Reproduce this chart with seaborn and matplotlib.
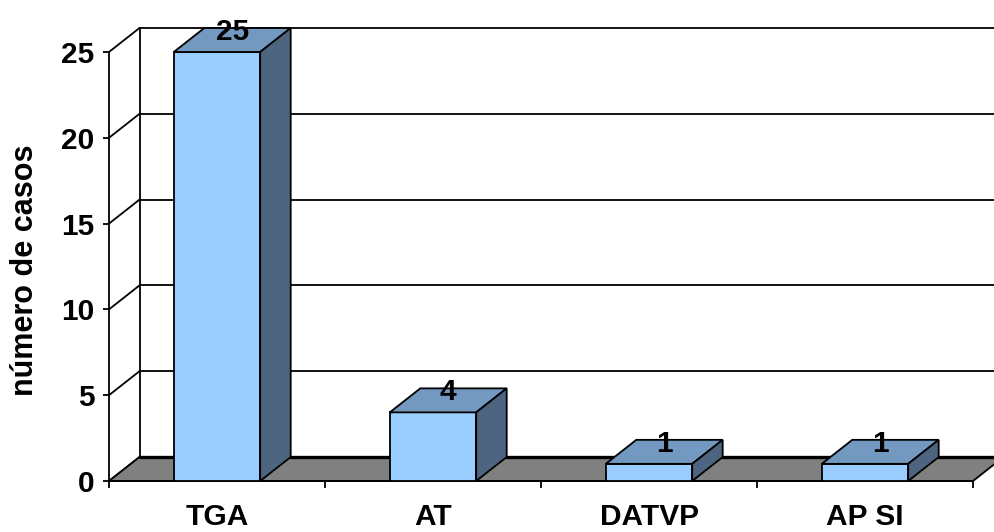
import matplotlib
matplotlib.use("Agg")
import matplotlib.pyplot as plt
from matplotlib.patches import Polygon
from matplotlib import font_manager
import seaborn as sns
import pandas as pd

# Cases per diagnosis
categories = ["TGA", "AT", "DATVP", "AP SI"]
casos = [25, 4, 1, 1]
y_ticks = [0, 5, 10, 15, 20, 25]
y_label = "número de casos"

FRONT = "#99CCFF"
TOP = "#7399C0"
SIDE = "#4D6580"
FLOOR = "#808080"

sns.set_theme(style="white")

names = {f.name for f in font_manager.fontManager.ttflist}
narrow = "Liberation Sans Narrow" if "Liberation Sans Narrow" in names else "Liberation Sans"
tick_size = 23 if narrow == "Liberation Sans Narrow" else 21.5
plt.rcParams["font.family"] = ["Liberation Sans", "DejaVu Sans"]
plt.rcParams["text.color"] = "black"
plt.rcParams["axes.labelcolor"] = "black"
plt.rcParams["xtick.color"] = "black"
plt.rcParams["ytick.color"] = "black"

W, H = 994, 532
fig = plt.figure(figsize=(W / 100, H / 100), dpi=100)
fig.patch.set_facecolor("white")

# plot area in pixels: front baseline at y=481, left axis at x=109
left_px, base_px = 109, 481
cat_px = 216.0     # pixels per category
unit_px = 17.16    # pixels per case
ax = fig.add_axes([left_px / W, (H - base_px) / H, (W - left_px) / W, base_px / H])
ax.set_facecolor("none")

# depth of the 3-D box in data units
dx = 30.5 / cat_px
dy = 24.0 / unit_px

df = pd.DataFrame({"diag": categories, "casos": casos})
sns.barplot(data=df, x="diag", y="casos", color=FRONT, width=0.4,
            edgecolor="black", linewidth=1.3, saturation=1, ax=ax, zorder=5)

xmax = -0.5 + (W - left_px) / cat_px
ax.set_xlim(-0.5, xmax)
ax.set_ylim(0, base_px / unit_px)

x0 = -0.5
x_end = -0.5 + len(categories)
lw = 1.3

# back wall gridlines and side wall diagonals
for v in y_ticks:
    ax.plot([x0 + dx, xmax + 1], [v + dy, v + dy], color="black", lw=lw, zorder=1,
            clip_on=False)
    ax.plot([x0, x0 + dx], [v, v + dy], color="black", lw=lw, zorder=1)
ax.plot([x0 + dx, x0 + dx], [dy, y_ticks[-1] + dy], color="black", lw=lw, zorder=1)

# floor
floor = Polygon([(x0, 0), (x_end, 0), (x_end + dx, dy), (x0 + dx, dy)],
                closed=True, facecolor=FLOOR, edgecolor="black", lw=lw, zorder=2,
                clip_on=False)
ax.add_patch(floor)
ax.plot([x0 + dx, x_end + dx], [dy, dy], color="black", lw=2.4, zorder=2.1,
        clip_on=False)

# top and side faces of each bar, built from the seaborn bars
for bar, val in zip(ax.patches[:len(categories)], casos):
    bx0 = bar.get_x()
    bx1 = bx0 + bar.get_width()
    h = bar.get_height()
    top = Polygon([(bx0, h), (bx1, h), (bx1 + dx, h + dy), (bx0 + dx, h + dy)],
                  closed=True, facecolor=TOP, edgecolor="black", lw=lw, zorder=6)
    side = Polygon([(bx1, 0), (bx1, h), (bx1 + dx, h + dy), (bx1 + dx, dy)],
                   closed=True, facecolor=SIDE, edgecolor="black", lw=lw, zorder=6)
    ax.add_patch(top)
    ax.add_patch(side)
    ax.text((bx0 + bx1) / 2 + dx / 2, h + dy / 2, f"{val}", ha="center",
            va="baseline", fontsize=tick_size, fontweight="bold", family=narrow,
            color="black", zorder=7)

# axes and ticks
for s in ["top", "right"]:
    ax.spines[s].set_visible(False)
ax.spines["left"].set_bounds(0, y_ticks[-1])
ax.spines["bottom"].set_bounds(x0, x_end)
for s in ["left", "bottom"]:
    ax.spines[s].set_color("black")
    ax.spines[s].set_linewidth(lw)
    ax.spines[s].set_zorder(3)

ax.set_yticks(y_ticks)
ax.set_yticklabels([str(t) for t in y_ticks], fontsize=tick_size, fontweight="bold",
                   family=narrow, color="black")
ax.tick_params(axis="y", which="major", left=True, length=4.5, width=lw,
               color="black", labelcolor="black", pad=6)

ax.set_xticks(range(len(categories)))
ax.set_xticklabels(categories, fontsize=tick_size, fontweight="bold", family=narrow,
                   color="black")
ax.set_xticks([x0 + i for i in range(len(categories) + 1)], minor=True)
ax.tick_params(axis="x", which="major", bottom=False, length=0, pad=16,
               labelcolor="black")
ax.tick_params(axis="x", which="minor", bottom=True, length=5, width=lw,
               color="black")
ax.set_xlabel("")

ax.set_ylabel(y_label, fontsize=22, fontweight="bold", color="black")
ax.yaxis.set_label_coords(-0.078, (base_px - 270) / base_px)

fig.savefig("out.png", dpi=100, facecolor="white")
